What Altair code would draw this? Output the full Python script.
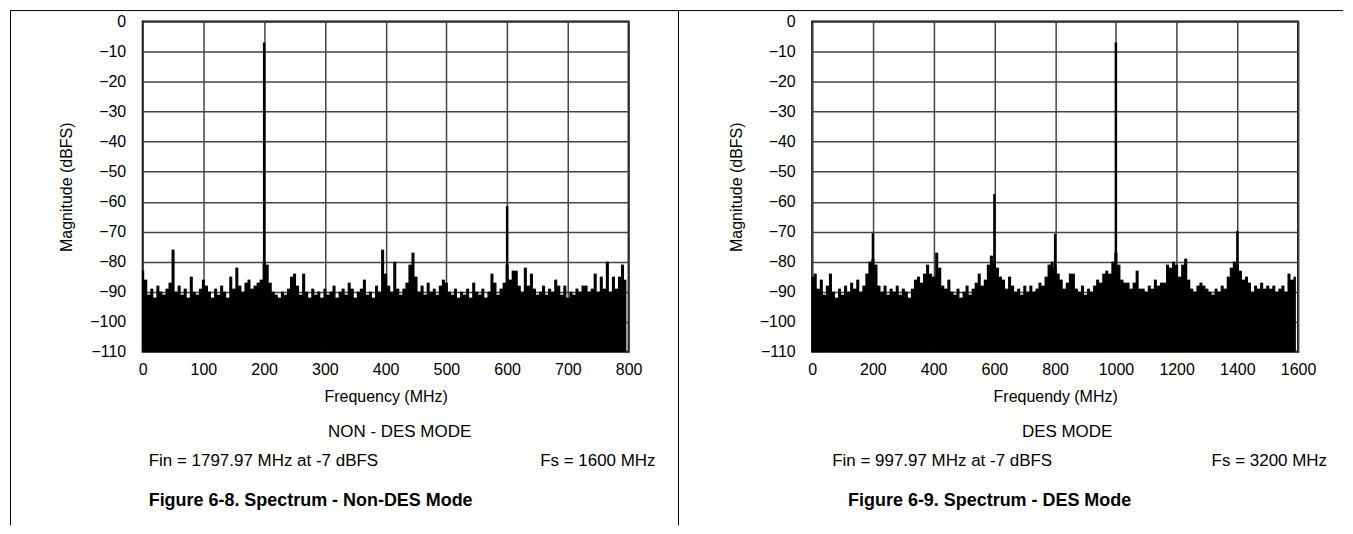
import altair as alt
import pandas as pd

FONT = "Liberation Sans"

# ---------------- Panel 1 : Non-DES mode (0-800 MHz) ----------------
freq1 = list(range(0, 800, 5))
mag1 = [
    -83, -86, -91, -89, -92, -88, -90, -91, -89, -87, -76, -90, -88, -91, -89, -92, -85, -90, -91, -89,
    -86, -88, -90, -92, -89, -91, -88, -90, -92, -85, -89, -82, -88, -90, -87, -86, -89, -88, -87, -86,
    -80, -81, -87, -90, -91, -92, -90, -91, -89, -85, -84, -88, -91, -84, -90, -92, -89, -91, -90, -92,
    -89, -91, -90, -88, -92, -90, -89, -91, -87, -89, -92, -90, -89, -86, -91, -90, -92, -88, -90, -76,
    -84, -88, -90, -80, -89, -91, -89, -87, -81, -77, -85, -90, -88, -91, -87, -90, -89, -91, -88, -86,
    -87, -90, -91, -89, -92, -90, -91, -89, -92, -87, -90, -91, -89, -92, -90, -84, -87, -91, -89, -87,
    -81, -86, -83, -83, -88, -90, -82, -88, -84, -89, -91, -90, -88, -91, -89, -90, -86, -88, -91, -88,
    -92, -90, -91, -89, -90, -88, -88, -90, -89, -84, -90, -85, -89, -80, -90, -85, -89, -85, -81, -86,
]
spur_f1 = [200, 600]
spur_m1 = [-7, -61.5]
xticks1 = [0, 100, 200, 300, 400, 500, 600, 700, 800]

# ---------------- Panel 2 : DES mode (0-1600 MHz) ----------------
freq2 = list(range(0, 1600, 10))
mag2 = [
    -85, -84, -89, -86, -91, -88, -84, -90, -92, -89, -91, -88, -90, -87, -89, -86, -90, -88, -84, -80,
    -79, -81, -88, -90, -88, -91, -89, -90, -88, -91, -89, -90, -92, -89, -86, -85, -87, -84, -81, -84,
    -85, -77, -82, -88, -89, -86, -90, -91, -89, -92, -90, -88, -91, -89, -87, -84, -88, -86, -81, -78,
    -80, -82, -85, -86, -89, -85, -88, -90, -89, -91, -88, -90, -88, -90, -89, -87, -88, -85, -81, -80,
    -82, -84, -86, -89, -87, -84, -84, -89, -90, -88, -91, -89, -90, -88, -86, -87, -84, -83, -84, -80,
    -77, -81, -86, -87, -87, -89, -87, -83, -89, -89, -90, -88, -89, -86, -88, -87, -87, -81, -82, -80,
    -81, -85, -81, -79, -86, -89, -90, -88, -87, -88, -89, -90, -91, -89, -90, -88, -89, -85, -82, -80,
    -81, -83, -86, -85, -87, -90, -88, -89, -87, -89, -88, -89, -88, -90, -89, -88, -90, -84, -86, -85,
]
spur_f2 = [200, 600, 800, 1000, 1400]
spur_m2 = [-70.5, -57.5, -70.7, -7, -69.7]
xticks2 = [0, 200, 400, 600, 800, 1000, 1200, 1400, 1600]

yticks = [-110, -100, -90, -80, -70, -60, -50, -40, -30, -20, -10, 0]

W, H = 487, 331
ONE = pd.DataFrame({"k": [0]})


def text_layer(txt, x, y, align="left", size=17, weight="normal"):
    return alt.Chart(ONE).mark_text(
        align=align, baseline="alphabetic", font=FONT, fontSize=size,
        fontWeight=weight, color="black"
    ).encode(x=alt.value(x), y=alt.value(y), text=alt.value(txt))


def panel(freq, mag, sf, sm, xmax, xticks, xtitle, texts, extra=None):
    noise = pd.DataFrame({"f": freq, "m": mag})
    spurs = pd.DataFrame({"f": sf, "m": sm})
    x = alt.X("f:Q", scale=alt.Scale(domain=[0, xmax], nice=False, zero=False),
              axis=alt.Axis(values=xticks, tickCount=len(xticks) + 5, title=xtitle, format="d",
                            labelOverlap=False, labelFlush=False))
    y = alt.Y("m:Q", scale=alt.Scale(domain=[-110, 0], nice=False, zero=False),
              axis=alt.Axis(values=yticks, tickCount=len(yticks) + 5, title="Magnitude (dBFS)",
                            format="d", labelOverlap=False, labelFlush=False))
    noise_area = alt.Chart(noise).mark_area(color="black", opacity=1, interpolate="step").encode(
        x=x, y=y, y2=alt.datum(-110))
    noise_rules = alt.Chart(noise).mark_rule(color="black", strokeWidth=1.6).encode(
        x="f:Q", y="m:Q", y2=alt.datum(-110))
    spur_layer = alt.Chart(spurs).mark_rule(color="black", strokeWidth=2.5).encode(
        x="f:Q", y="m:Q", y2=alt.datum(-110))
    layers = [noise_area, noise_rules, spur_layer] + texts
    if extra:
        layers += extra
    return alt.layer(*layers).properties(width=W, height=H)


frame = [
    alt.Chart(ONE).mark_rule(color="black", strokeWidth=1).encode(
        x=alt.value(-132.5), y=alt.value(-11), y2=alt.value(505)),
    alt.Chart(ONE).mark_rule(color="black", strokeWidth=1).encode(
        x=alt.value(-133), x2=alt.value(1203), y=alt.value(-11)),
    alt.Chart(ONE).mark_rule(color="black", strokeWidth=1).encode(
        x=alt.value(537), y=alt.value(-11), y2=alt.value(505)),
]

p1 = panel(freq1, mag1, spur_f1, spur_m1, 800, xticks1, "Frequency (MHz)", [
    text_layer("NON - DES MODE", 257.5, 416, align="center"),
    text_layer("Fin = 1797.97 MHz at -7 dBFS", 6, 445),
    text_layer("Fs = 1600 MHz", 514, 445, align="right"),
    text_layer("Figure 6-8. Spectrum - Non-DES Mode", 6, 486, size=18, weight="bold"),
], extra=frame)

p2 = panel(freq2, mag2, spur_f2, spur_m2, 1600, xticks2, "Frequendy (MHz)", [
    text_layer("DES MODE", 255.5, 416, align="center"),
    text_layer("Fin = 997.97 MHz at -7 dBFS", 20, 445),
    text_layer("Fs = 3200 MHz", 516, 445, align="right"),
    text_layer("Figure 6-9. Spectrum - DES Mode", 36, 486, size=18, weight="bold"),
])

chart = alt.hconcat(p1, p2, spacing=184, bounds="flush").properties(
    padding={"left": 0, "top": 0, "right": 0, "bottom": 0},
    background="white",
).configure_axis(
    labelFont=FONT, titleFont=FONT, labelFontSize=16, titleFontSize=16,
    titleFontWeight="normal", labelColor="black", titleColor="black",
    gridColor="#444444", gridWidth=1.5, gridOpacity=1,
    domain=False, ticks=False, tickSize=0,
).configure_axisX(
    labelPadding=10, titlePadding=11,
).configure_axisY(
    labelPadding=17, titlePadding=15,
).configure_view(
    stroke="black", strokeWidth=2,
)

chart.save("out.html", embed_options={"renderer": "svg", "actions": False})
